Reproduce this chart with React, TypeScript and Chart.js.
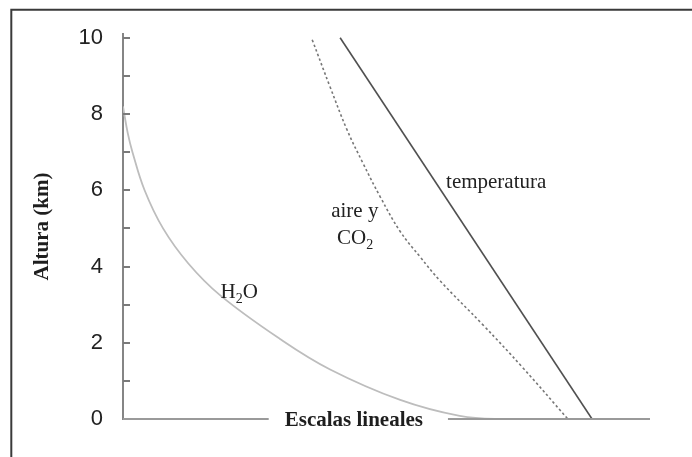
import { useEffect, useRef } from 'react';
import { Chart, registerables } from 'chart.js';

Chart.register(...registerables);

// Altitude profiles (km) on a linear, unitless horizontal scale (0–100)
const temperaturaX = [41.2, 89.0];
const temperaturaY = [10.0, 0];

const aireCo2X = [35.9, 39.3, 42.5, 45.5, 48.8, 52.6, 56.4, 60.2, 68.3, 75.9, 84.4];
const aireCo2Y = [9.95, 8.71, 7.59, 6.72, 5.83, 4.92, 4.25, 3.62, 2.47, 1.34, 0];

const h2oX = [0, 0.9, 1.8, 4.1, 7.6, 12.4, 18.4, 29.8, 39.3, 52.6, 63.9, 71.5, 100];
const h2oY = [8.2, 7.5, 7.0, 6.0, 5.0, 4.08, 3.25, 2.1, 1.3, 0.5, 0.08, 0, 0];

const yMin = 0;
const yMax = 10.1;
const yTickValues = [0, 1, 2, 3, 4, 5, 6, 7, 8, 9, 10];
const yLabelEvery = 2;

const yTitle = 'Altura (km)';
const xTitle = 'Escalas lineales';
const xTitleAt = 43.8;

// Curve labels; a part flagged "sub" is drawn as a subscript
type Part = { t: string; sub?: boolean };
const curveLabels: { parts: Part[]; x: number; y: number }[] = [
  { parts: [{ t: 'temperatura' }], x: 61.3, y: 6.06 },
  { parts: [{ t: 'aire y' }], x: 39.5, y: 5.31 },
  { parts: [{ t: 'CO' }, { t: '2', sub: true }], x: 40.6, y: 4.59 },
  { parts: [{ t: 'H' }, { t: '2', sub: true }, { t: 'O' }], x: 18.5, y: 3.18 },
];

const toPoints = (xs: number[], ys: number[]) => xs.map((x, i) => ({ x, y: ys[i] }));

const SERIF = '"Liberation Serif", "Times New Roman", serif';
const SANS = '"Liberation Sans", Arial, sans-serif';

const framePlugin = {
  id: 'frame',
  beforeDraw(chart: any) {
    const { ctx, width, height } = chart;
    ctx.save();
    ctx.fillStyle = '#ffffff';
    ctx.fillRect(0, 0, width, height);
    ctx.strokeStyle = '#3a3a3a';
    ctx.lineWidth = 2;
    ctx.beginPath();
    ctx.moveTo(11.3, height + 2);
    ctx.lineTo(11.3, 9.7);
    ctx.lineTo(width + 2, 9.7);
    ctx.stroke();
    ctx.restore();
  },
};

const axisDecorPlugin = {
  id: 'axisDecor',
  afterDatasetsDraw(chart: any) {
    const { ctx, chartArea, scales } = chart;
    const xs = scales.x;
    const ys = scales.y;
    ctx.save();

    // inward tick marks on the vertical axis
    ctx.strokeStyle = '#7a7a7a';
    ctx.lineWidth = 2;
    for (const t of ys.ticks) {
      const py = Math.round(ys.getPixelForValue(t.value));
      ctx.beginPath();
      ctx.moveTo(chartArea.left, py);
      ctx.lineTo(chartArea.left + 7, py);
      ctx.stroke();
    }

    // horizontal axis with its title set into the line
    ctx.font = `bold 21px ${SERIF}`;
    const tw = ctx.measureText(xTitle).width;
    const cx = xs.getPixelForValue(xTitleAt);
    const by = ys.getPixelForValue(0);
    const gapL = cx - tw / 2 - 16;
    const gapR = cx + tw / 2 + 25;
    ctx.strokeStyle = '#9a9a9a';
    ctx.lineWidth = 2;
    ctx.beginPath();
    ctx.moveTo(chartArea.left, by);
    ctx.lineTo(gapL, by);
    ctx.moveTo(gapR, by);
    ctx.lineTo(chartArea.right, by);
    ctx.stroke();
    ctx.fillStyle = '#1e1e1e';
    ctx.textAlign = 'center';
    ctx.textBaseline = 'middle';
    ctx.fillText(xTitle, cx, by + 2);

    // curve labels
    ctx.textAlign = 'left';
    ctx.textBaseline = 'alphabetic';
    ctx.fillStyle = '#222222';
    for (const lab of curveLabels) {
      let px = xs.getPixelForValue(lab.x);
      const py = ys.getPixelForValue(lab.y);
      for (const p of lab.parts) {
        ctx.font = p.sub ? `14px ${SERIF}` : `21px ${SERIF}`;
        ctx.fillText(p.t, px, p.sub ? py + 5 : py);
        px += ctx.measureText(p.t).width;
      }
    }
    ctx.restore();
  },
};

export default function App() {
  const canvasRef = useRef<HTMLCanvasElement | null>(null);

  useEffect(() => {
    const canvas = canvasRef.current;
    if (!canvas) return;
    const chart = new Chart(canvas, {
      type: 'scatter',
      data: {
        datasets: [
          {
            label: 'temperatura',
            data: toPoints(temperaturaX, temperaturaY),
            showLine: true,
            borderColor: '#505050',
            borderWidth: 1.6,
            pointRadius: 0,
          },
          {
            label: 'aire y CO2',
            data: toPoints(aireCo2X, aireCo2Y),
            showLine: true,
            borderColor: '#777777',
            borderWidth: 1.6,
            borderDash: [2.5, 2.5],
            pointRadius: 0,
            tension: 0.4,
          },
          {
            label: 'H2O',
            data: toPoints(h2oX, h2oY),
            showLine: true,
            borderColor: '#bdbdbd',
            borderWidth: 1.8,
            pointRadius: 0,
            tension: 0.4,
          },
        ],
      },
      options: {
        animation: false,
        responsive: false,
        devicePixelRatio: 1,
        layout: { padding: { left: 25, top: 34, right: 42, bottom: 38 } },
        plugins: {
          legend: { display: false },
          tooltip: { enabled: false },
        },
        scales: {
          x: {
            type: 'linear',
            min: 0,
            max: 100,
            display: false,
          },
          y: {
            type: 'linear',
            min: yMin,
            max: yMax,
            afterFit: (s: any) => {
              s.width = 98;
            },
            afterBuildTicks: (s: any) => {
              s.ticks = yTickValues.map((value) => ({ value }));
            },
            grid: { display: false, drawTicks: false },
            border: { display: true, color: '#858585', width: 2 },
            ticks: {
              padding: 20,
              color: '#222222',
              font: { family: SANS, size: 22 },
              callback: (v: any) => (Number(v) % yLabelEvery === 0 ? String(v) : ''),
            },
            title: {
              display: true,
              text: yTitle,
              color: '#1e1e1e',
              font: { family: SERIF, size: 21, weight: 'bold' },
              padding: { top: 5, bottom: 0 },
            },
          },
        },
      },
      plugins: [framePlugin, axisDecorPlugin],
    });
    return () => chart.destroy();
  }, []);

  return (
    <div style={{ position: 'fixed', left: 0, top: 0, width: 692, height: 457, background: '#fff' }}>
      <canvas ref={canvasRef} width={692} height={457} style={{ display: 'block' }} />
    </div>
  );
}
